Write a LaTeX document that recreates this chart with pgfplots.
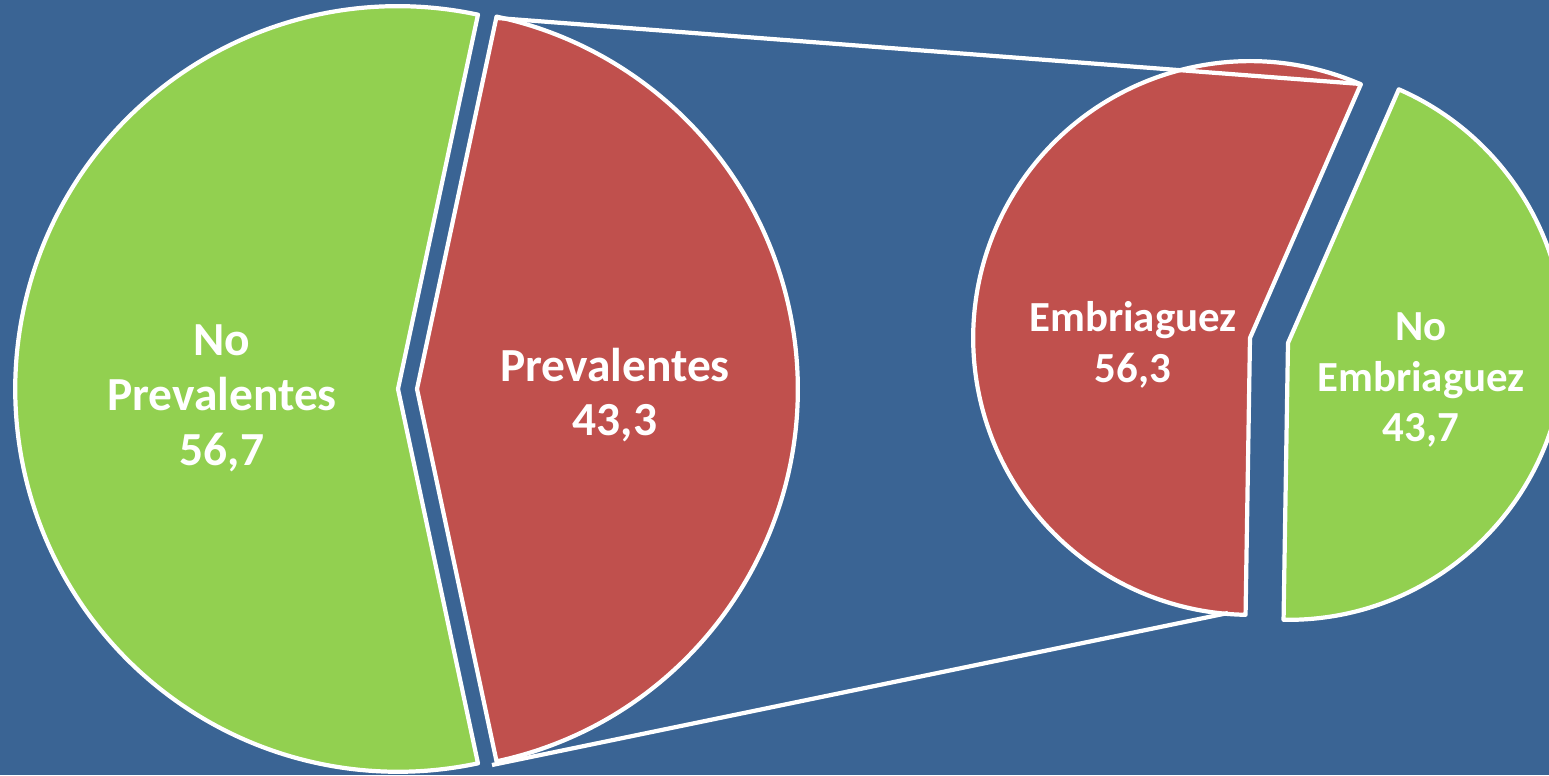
\documentclass[border=0pt]{standalone}
\usepackage{pgfplots}
\pgfplotsset{compat=1.18}
\usepackage{pgfplotstable}
\usepackage{fontspec}
\setmainfont{Carlito}

\definecolor{bgblue}{RGB}{58,100,148}
\definecolor{pgreen}{RGB}{146,208,80}
\definecolor{pred}{RGB}{192,80,77}

% share of each slice, in percent
\pgfplotstableread{
label value
NoPrev 56.7
Prev 43.3
}\mainpie
\pgfplotstableread{
label value
Embr 56.3
NoEmbr 43.7
}\subpie

\pgfplotstablegetelem{0}{value}\of\mainpie \let\vA\pgfplotsretval
\pgfplotstablegetelem{1}{value}\of\mainpie \let\vB\pgfplotsretval
\pgfplotstablegetelem{0}{value}\of\subpie \let\vC\pgfplotsretval
\pgfplotstablegetelem{1}{value}\of\subpie \let\vD\pgfplotsretval

% angles: red slice of the main pie centred on 0 deg
\pgfmathsetmacro\mhalf{\vB*1.8}
\pgfmathsetmacro\mgend{360-\mhalf}
% second pie starts at 66.4 deg
\pgfmathsetmacro\sstart{66.4}
\pgfmathsetmacro\smid{\sstart+\vC*3.6}
\pgfmathsetmacro\send{\sstart+360}

% x y radius start end colour  (1 axis unit = 0.01cm)
\newcommand{\slice}[6]{%
  \filldraw[fill=#6, draw=white, line width=1.2pt, line join=round]
    (axis cs:#1,#2) -- ++(#4:#3*0.01cm)
    arc[start angle=#4, end angle=#5, radius=#3*0.01cm] -- cycle;}

\newcommand{\pct}[1]{\pgfmathprintnumber[fixed,fixed zerofill,precision=1,use comma,assume math mode=true]{#1}}

\begin{document}
\begin{tikzpicture}
\begin{axis}[
  width=15.49cm, height=7.75cm, scale only axis,
  xmin=0, xmax=1549, ymin=0, ymax=775,
  hide axis, clip=false,
]
\fill[bgblue] (axis cs:0,0) rectangle (axis cs:1549,775);

% main pie
\slice{398}{386}{383}{\mhalf}{\mgend}{pgreen}
\slice{417}{386}{381}{-\mhalf}{\mhalf}{pred}

% second pie
\slice{1250}{437}{277}{\sstart}{\smid}{pred}
\slice{1288}{432}{277}{\smid}{\send}{pgreen}

% connector lines
\draw[white, line width=1.2pt] (axis cs:497,757) -- (axis cs:1361,691);
\draw[white, line width=1.2pt] (axis cs:492,10) -- (axis cs:1228,162);

\tikzset{lbl/.style={text=white, align=center, font=\fontsize{13.5}{15.6}\selectfont\bfseries},
         lbls/.style={text=white, align=center, font=\fontsize{12.2}{14.5}\selectfont\bfseries}}
\node[lbl] at (axis cs:222,377) {No\\Prevalentes\\\pct{\vA}};
\node[lbl] at (axis cs:615,380) {Prevalentes\\\pct{\vB}};
\node[lbls] at (axis cs:1133,430) {Embriaguez\\\pct{\vC}};
\node[lbls] at (axis cs:1421,395) {No\\Embriaguez\\\pct{\vD}};
\end{axis}
\pgfresetboundingbox
\path (current axis.south west) rectangle (current axis.north east);
\end{tikzpicture}
\end{document}
